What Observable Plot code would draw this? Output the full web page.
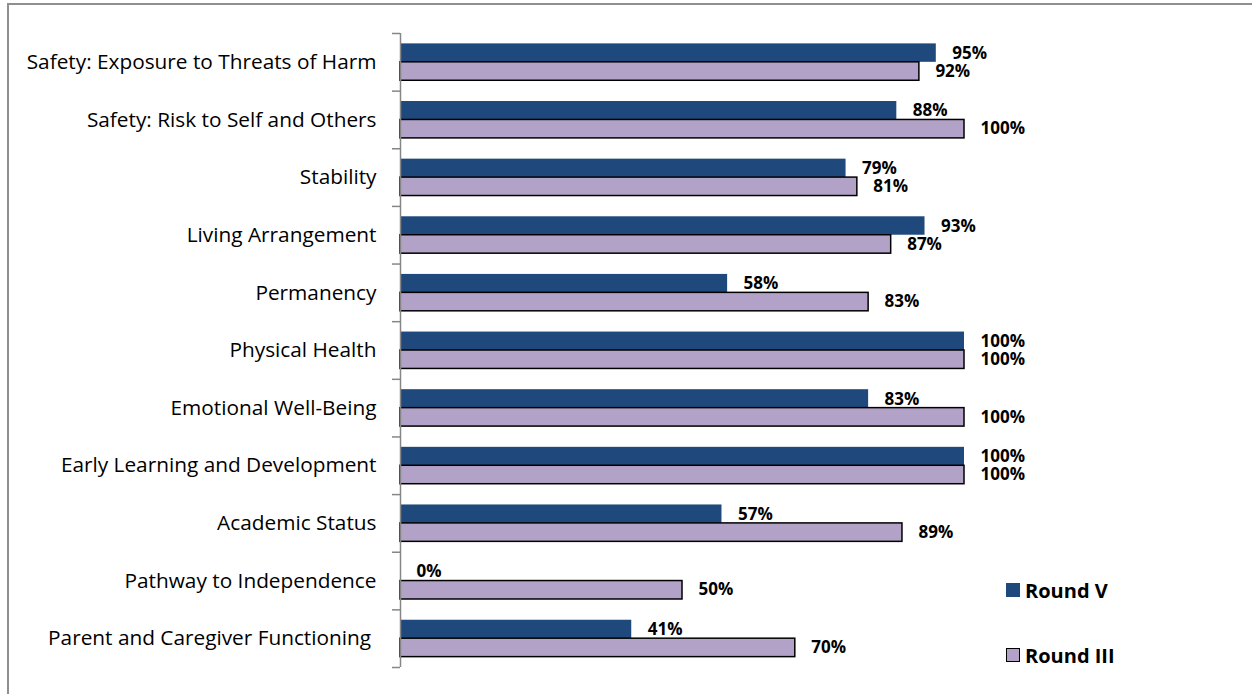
<!DOCTYPE html>
<html><head><meta charset="utf-8">
<script src="https://cdn.jsdelivr.net/npm/d3@7"></script>
<script src="https://cdn.jsdelivr.net/npm/@observablehq/plot@0.6"></script>
<style>
body{margin:0;background:#fff;}
#wrap{position:relative;width:1252px;height:694px;overflow:hidden;font-family:"Open Sans",sans-serif;background:#fff;}
#frame{position:absolute;left:7px;top:3px;width:1270px;height:730px;border:2px solid #8f8f8f;box-sizing:border-box;pointer-events:none;}
.leg{position:absolute;display:flex;align-items:center;font-weight:bold;font-size:20px;color:#000;}
.sw{width:14px;height:14px;margin-right:5px;box-sizing:border-box;}
</style>
</head><body>
<div id="wrap"><div id="chart"></div><div id="legend"></div><div id="frame"></div></div>
<script>
const categories = [
  "Safety: Exposure to Threats of Harm",
  "Safety: Risk to Self and Others",
  "Stability",
  "Living Arrangement",
  "Permanency",
  "Physical Health",
  "Emotional Well-Being",
  "Early Learning and Development",
  "Academic Status",
  "Pathway to Independence",
  "Parent and Caregiver Functioning\u00a0"
];
const roundV   = [95, 88, 79, 93, 58, 100, 83, 100, 57, 0, 41];
const roundIII = [92, 100, 81, 87, 83, 100, 100, 100, 89, 50, 70];
const seriesNames = ["Round V", "Round III"];
const seriesColors = ["#1F497D", "#B3A2C7"];

const rows = categories.map((c, i) => ({category: c, v: roundV[i], iii: roundIII[i]}));

const W = 1252, H = 694, mT = 33, mB = 27, mL = 400, mR = 288;
const band = (H - mT - mB) / categories.length;
const axisColor = "#868686";

const chart = Plot.plot({
  width: W, height: H,
  marginTop: mT, marginBottom: mB, marginLeft: mL, marginRight: mR,
  style: {fontFamily: "'Open Sans', sans-serif", fontSize: "19px", background: "transparent", color: "#000"},
  x: {domain: [0, 100], axis: null},
  y: {domain: categories, padding: 0, round: false, axis: null, label: null},
  marks: [
    Plot.barX(rows, {y: "category", x: "v", fill: seriesColors[0],
      insetTop: band * 0.18, insetBottom: band * 0.50}),
    Plot.barX(rows, {y: "category", x: "iii", fill: seriesColors[1], stroke: "#000", strokeWidth: 1.5,
      insetTop: band * 0.50, insetBottom: band * 0.18}),
    Plot.ruleX([0], {stroke: axisColor, strokeWidth: 1.5}),
    Plot.axisY({tickSize: 8, tickFormat: () => "", label: null, dy: -band / 2, stroke: axisColor, strokeWidth: 1.5}),
    Plot.axisY([categories[categories.length - 1]], {tickSize: 8, tickFormat: () => "", label: null, dy: band / 2, stroke: axisColor, strokeWidth: 1.5}),
    Plot.axisY({tickSize: 0, tickPadding: 24, label: null, fontSize: 20.8, fill: "#000"}),
    Plot.text(rows, {y: "category", x: "v", text: d => d.v + "%", dx: 16, dy: -9,
      textAnchor: "start", fontWeight: "bold", fontSize: 17, fill: "#000"}),
    Plot.text(rows, {y: "category", x: "iii", text: d => d.iii + "%", dx: 16, dy: 9,
      textAnchor: "start", fontWeight: "bold", fontSize: 17, fill: "#000"})
  ]
});
document.getElementById("chart").appendChild(chart);

const legend = document.getElementById("legend");
const legTops = [580, 645];
seriesNames.forEach((name, i) => {
  const d = document.createElement("div");
  d.className = "leg";
  d.style.left = "1006px";
  d.style.top = legTops[i] + "px";
  d.style.height = "20px";
  const sw = document.createElement("div");
  sw.className = "sw";
  sw.style.background = seriesColors[i];
  if (i === 1) sw.style.border = "1.5px solid #000";
  const t = document.createElement("span");
  t.textContent = name;
  d.appendChild(sw); d.appendChild(t);
  legend.appendChild(d);
});
</script>
</body></html>
